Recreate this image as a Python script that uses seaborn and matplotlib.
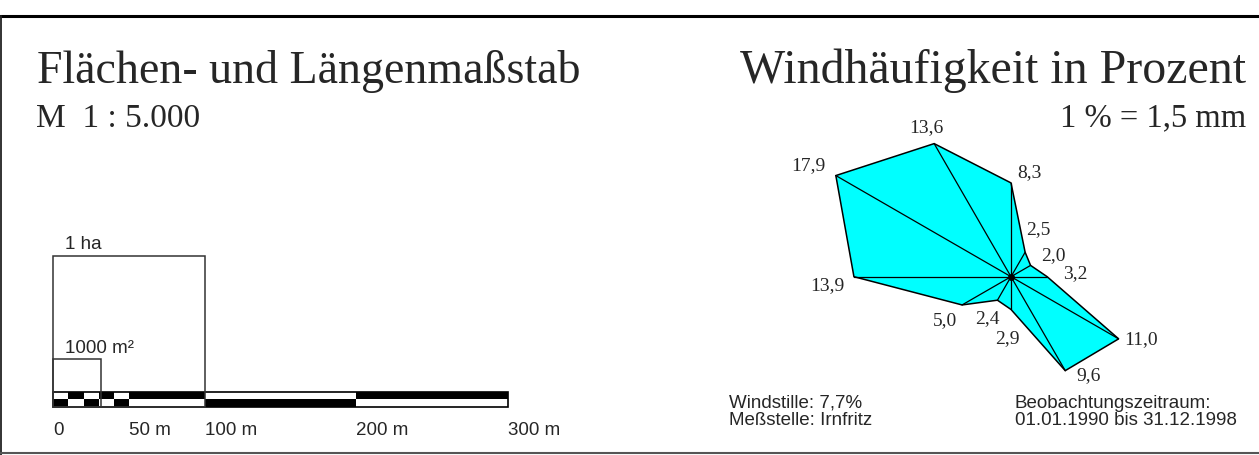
#!/usr/bin/env python3
"""
Flächen- und Längenmaßstab + Windrose (Windhäufigkeit in Prozent)
"""

import numpy as np
import matplotlib
matplotlib.use("Agg")
import matplotlib.pyplot as plt
from matplotlib.lines import Line2D
from matplotlib.patches import Rectangle, Polygon
import seaborn as sns

# --- data -------------------------------------------------------------
# scale bar segment edges (m) and fill of the upper row (1 = black)
BAR_EDGES = [0, 10, 20, 30, 40, 50, 100, 200, 300]
BAR_TOP_BLACK = [0, 1, 0, 1, 0, 1, 0, 1]
BAR_TICKS = [0, 50, 100, 200, 300]
BAR_LABELS = ["0", "50 m", "100 m", "200 m", "300 m"]

# area squares (m²)
AREAS = [10000, 1000]
AREA_LABELS = ["1 ha", "1000 m²"]

# wind rose: direction (deg from north, clockwise) and frequency (%)
WIND_DIRS = [0, 30, 60, 90, 120, 150, 180, 210, 240, 270, 300, 330]
WIND_FREQ = [8.3, 2.5, 2.0, 3.2, 11.0, 9.6, 2.9, 2.4, 5.0, 13.9, 17.9, 13.6]
WIND_LABELS = ["8,3", "2,5", "2,0", "3,2", "11,0", "9,6",
               "2,9", "2,4", "5,0", "13,9", "17,9", "13,6"]

# --- layout -----------------------------------------------------------
W, H = 1259, 455
PX_PER_M = 1.515       # map scale on screen
PX_PER_PCT = 11.3      # wind rose scale
BAR0 = (53.3, 407.0)   # pixel of 0 m on the bar bottom
ROSE0 = (1011.0, 276.7)
# label offsets from each rose vertex (pixels)
LABEL_OFF = [(18, -10), (13, -23), (23, -10), (28, -3), (22, 1), (23, 5),
             (-4, 29), (-10, 18), (-17, 16), (-27, 9), (-27, -10), (-8, -16)]

SERIF = "Liberation Serif"
SANS = "Liberation Sans"

sns.set_style("white")
plt.rcParams["font.family"] = [SANS, "DejaVu Sans"]


def fx(px):
    return px / W


def fy(py):
    return 1 - py / H


def main():
    fig = plt.figure(figsize=(W / 100, H / 100), dpi=100)

    # ---------- left panel: scale bar and area squares ----------
    ax = fig.add_axes([0, 0, 630 / W, 1])
    ax.set_xlim(-BAR0[0] / PX_PER_M, (630 - BAR0[0]) / PX_PER_M)
    ax.set_ylim(-(H - BAR0[1]) / PX_PER_M, BAR0[1] / PX_PER_M)
    ax.axis("off")

    row_h = 5.0
    lefts = BAR_EDGES[:-1]
    widths = np.diff(BAR_EDGES)
    top_cols = ["black" if b else "white" for b in BAR_TOP_BLACK]
    bot_cols = ["white" if b else "black" for b in BAR_TOP_BLACK]
    ax.bar(lefts, row_h, width=widths, bottom=row_h, align="edge",
           color=top_cols, edgecolor="none", linewidth=0)
    ax.bar(lefts, row_h, width=widths, bottom=0, align="edge",
           color=bot_cols, edgecolor="none", linewidth=0)
    ax.add_patch(Rectangle((0, 0), BAR_EDGES[-1], 2 * row_h, fill=False,
                           edgecolor="black", linewidth=1.2))

    for area, lab in zip(AREAS, AREA_LABELS):
        side = np.sqrt(area)
        ax.add_patch(Rectangle((0, 0), side, side, fill=False,
                               edgecolor="#333333", linewidth=1.1))
        ax.text(7.5, side + 4.3, lab, fontsize=13.5, family=SANS,
                ha="left", va="baseline")

    for x, lab in zip(BAR_TICKS, BAR_LABELS):
        ax.text(x, -18.5, lab, fontsize=13.5, family=SANS,
                ha="left", va="baseline")

    # ---------- right panel: wind rose ----------
    ax2 = fig.add_axes([700 / W, 0, (W - 700) / W, 1])
    ax2.set_xlim(-(ROSE0[0] - 700) / PX_PER_PCT, (W - ROSE0[0]) / PX_PER_PCT)
    ax2.set_ylim(-(H - ROSE0[1]) / PX_PER_PCT, ROSE0[1] / PX_PER_PCT)
    ax2.axis("off")

    theta = np.deg2rad(WIND_DIRS)
    freq = np.array(WIND_FREQ)
    xs = freq * np.sin(theta)
    ys = freq * np.cos(theta)

    ax2.add_patch(Polygon(np.column_stack([xs, ys]), closed=True,
                          facecolor="#00FFFF", edgecolor="black",
                          linewidth=1.1, zorder=1))
    for x, y in zip(xs, ys):
        ax2.plot([0, x], [0, y], color="black", linewidth=0.9, zorder=2)
    ax2.plot(0, 0, "o", color="black", markersize=4, zorder=3)

    for x, y, lab, off in zip(xs, ys, WIND_LABELS, LABEL_OFF):
        ax2.annotate(lab, (x, y), xytext=(off[0], -off[1]),
                     textcoords="offset pixels", ha="center", va="center",
                     fontsize=14, family=SERIF)

    # ---------- titles and notes ----------
    fig.text(fx(37), fy(83.3), "Flächen- und Längenmaßstab", family=SERIF,
             fontsize=33, ha="left", va="baseline")
    fig.text(fx(36), fy(126.7), "M  1 : 5.000", family=SERIF,
             fontsize=24, ha="left", va="baseline")
    fig.text(fx(1246), fy(83.3), "Windhäufigkeit in Prozent", family=SERIF,
             fontsize=34.5, ha="right", va="baseline")
    fig.text(fx(1246), fy(126.7), "1 % = 1,5 mm", family=SERIF,
             fontsize=23.5, ha="right", va="baseline")

    fig.text(fx(729), fy(408), "Windstille: 7,7%", family=SANS,
             fontsize=13.5, ha="left", va="baseline")
    fig.text(fx(729), fy(425), "Meßstelle: Irnfritz", family=SANS,
             fontsize=13.5, ha="left", va="baseline")
    fig.text(fx(1015), fy(408), "Beobachtungszeitraum:", family=SANS,
             fontsize=13.5, ha="left", va="baseline")
    fig.text(fx(1015), fy(425), "01.01.1990 bis 31.12.1998", family=SANS,
             fontsize=13.5, ha="left", va="baseline")

    # ---------- frame ----------
    fig.add_artist(Line2D([0, 1], [fy(16.3), fy(16.3)], transform=fig.transFigure,
                          color="black", linewidth=2.2))
    fig.add_artist(Line2D([fx(1), fx(1)], [fy(16.3), fy(455)], transform=fig.transFigure,
                          color="#222222", linewidth=1.3))
    fig.add_artist(Line2D([0, 1], [fy(453.3), fy(453.3)], transform=fig.transFigure,
                          color="#555555", linewidth=1.5))

    fig.savefig("out.png", dpi=100, facecolor="white")
    plt.close(fig)


if __name__ == "__main__":
    main()
